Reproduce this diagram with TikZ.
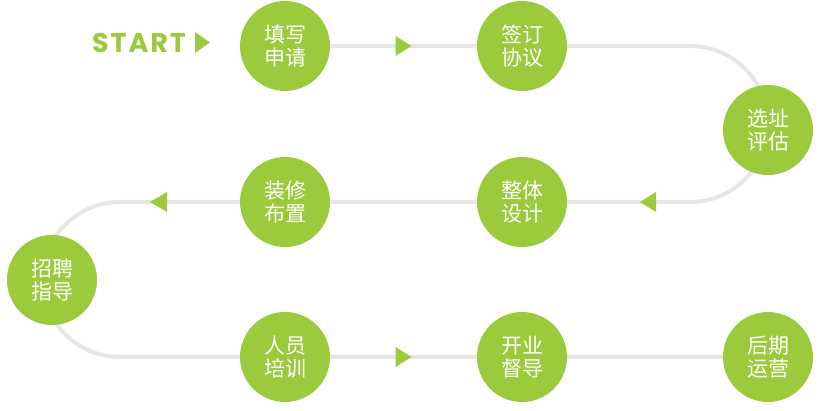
\documentclass[tikz,border=0pt]{standalone}
\usepackage{fontspec}
\newfontfamily\cjk{Noto Sans CJK SC}
\newfontfamily\startfont{Poppins}[LetterSpace=7]
\usetikzlibrary{calc,positioning,backgrounds}
\definecolor{leaf}{HTML}{9BCA3C}
\definecolor{track}{HTML}{E6E6E6}
\tikzstyle{stage}=[circle,fill=leaf,minimum size=90pt,inner sep=0pt,text=white,align=center,font=\cjk\fontsize{21}{23.5}\selectfont]
\tikzstyle{road}=[draw=track,line width=4pt]
\tikzstyle{tip}=[fill=leaf]

\begin{document}
\begin{tikzpicture}[x=1pt,y=1pt]
  \useasboundingbox (0,0) rectangle (820,410);

  \node [stage] (c1) at (285,364) {填写\\申请};
  \node [stage] (c2) [node distance=237pt,right of=c1] {签订\\协议};
  \node [stage] (c3) at (768,280) {选址\\评估};
  \node [stage] (c4) [node distance=156pt,below of=c2] {整体\\设计};
  \node [stage] (c5) [node distance=237pt,left of=c4] {装修\\布置};
  \node [stage] (c6) at (52,130) {招聘\\指导};
  \node [stage] (c7) [node distance=155pt,below of=c5] {人员\\培训};
  \node [stage] (c8) [node distance=237pt,right of=c7] {开业\\督导};
  \node [stage] (c9) [node distance=246pt,right of=c8] {后期\\运营};

  \node [text=leaf,font=\startfont\bfseries\fontsize{27}{27}\selectfont,inner sep=0pt,anchor=base west] (start) at (92,357) {START};

  \coordinate (turnR) at (690,364);
  \coordinate (turnL) at (120,208);

  \begin{scope}[on background layer]
    \draw [road] (c1.center) -- (c2.center) -- (turnR) arc[start angle=90,end angle=-90,radius=78]
      -- (c4.center) -- (c5.center) -- (turnL) arc[start angle=90,end angle=270,radius=77.5]
      -- (c7.center) -- (c8.center) -- (c9.center);
  \end{scope}

  % arrow heads
  \fill [tip] (210,367.5) -- ++(-15,10.5) -- ++(0,-21) -- cycle;
  \fill [tip] ($(c1)!0.5!(c2)+(8,0)$) -- ++(-16,10) -- ++(0,-20) -- cycle;
  \fill [tip] ($(c4)+(118,0)$) -- ++(16,10) -- ++(0,-20) -- cycle;
  \fill [tip] ($(c5)-(135,0)$) -- ++(17,10) -- ++(0,-20) -- cycle;
  \fill [tip] ($(c7)!0.5!(c8)+(8,0)$) -- ++(-16,10) -- ++(0,-20) -- cycle;
\end{tikzpicture}
\end{document}
